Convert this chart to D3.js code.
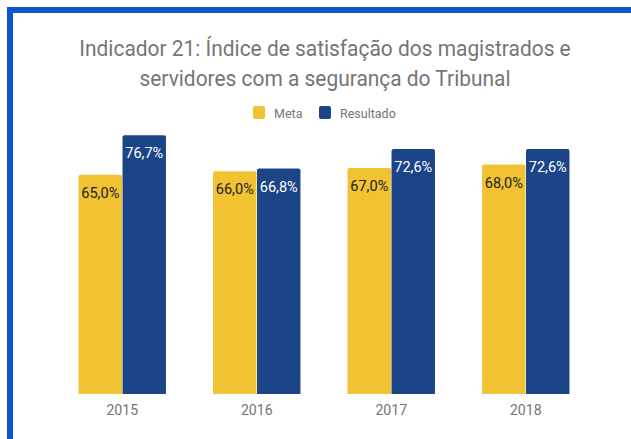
<!DOCTYPE html>
<html>
<head>
<meta charset="utf-8">
<script src="https://cdn.jsdelivr.net/npm/d3@7"></script>
<style>
  html, body { margin: 0; padding: 0; background: #fff; }
  svg { display: block; font-family: Roboto, "Noto Sans", sans-serif; }
</style>
</head>
<body>
<svg id="svg" width="631" height="439"></svg>
<script>
/* global d3 */

const years = ["2015", "2016", "2017", "2018"];
const series = ["Meta", "Resultado"];
const meta = [65.0, 66.0, 67.0, 68.0];
const resultado = [76.7, 66.8, 72.6, 72.6];
const titleLines = [
  "Indicador 21: Índice de satisfação dos magistrados e",
  "servidores com a segurança do Tribunal"
];

const colors = { Meta: "#f1c232", Resultado: "#1c4587" };
const labelColors = { Meta: "#1a1a1a", Resultado: "#ffffff" };
// the source text is a bit narrower than plain Roboto
const squeeze = 0.94;

const svg = d3.select("#svg");

// frame (blue border on top and left)
svg.append("path")
  .attr("d", "M10,439V10H631")
  .attr("fill", "none")
  .attr("stroke", "#1155cc")
  .attr("stroke-width", 6);

// title
svg.append("g")
  .selectAll("text")
  .data(titleLines)
  .join("text")
  .attr("transform", (d, i) => `translate(325,${56 + i * 30}) scale(0.93,1)`)
  .attr("text-anchor", "middle")
  .attr("font-size", 22.5)
  .attr("fill", "#757575")
  .text(d => d);

// legend
const legend = svg.append("g").attr("transform", "translate(253,106)");
const legendItems = legend.selectAll("g")
  .data(series)
  .join("g")
  .attr("transform", (d, i) => `translate(${i * 66},0)`);
legendItems.append("rect")
  .attr("width", 12)
  .attr("height", 13)
  .attr("rx", 2)
  .attr("fill", d => colors[d]);
legendItems.append("text")
  .attr("x", 21)
  .attr("y", 11.5)
  .attr("font-size", 12.5)
  .attr("fill", "#757575")
  .text(d => d);

// scales
const x = d3.scaleBand()
  .domain(years)
  .range([55, 593])
  .paddingInner(0.35)
  .paddingOuter(0.175);

const xSub = d3.scaleBand()
  .domain(series)
  .range([0, x.bandwidth()])
  .paddingInner(0.012);

const y = d3.scaleLinear()
  .domain([0, 80])
  .range([394, 124]);

const rows = years.map((yr, i) => ({
  year: yr,
  values: [
    { key: "Meta", value: meta[i] },
    { key: "Resultado", value: resultado[i] }
  ]
}));

const groups = svg.append("g")
  .selectAll("g")
  .data(rows)
  .join("g")
  .attr("transform", d => `translate(${x(d.year)},0)`);

// bars with slightly rounded tops
const barPath = (x0, w, top, bottom, r) =>
  `M${x0},${bottom}V${top + r}Q${x0},${top} ${x0 + r},${top}` +
  `H${x0 + w - r}Q${x0 + w},${top} ${x0 + w},${top + r}V${bottom}Z`;

groups.selectAll("path")
  .data(d => d.values)
  .join("path")
  .attr("d", d => barPath(xSub(d.key), xSub.bandwidth(), y(d.value), y(0), 2))
  .attr("fill", d => colors[d.key]);

groups.selectAll("text.value")
  .data(d => d.values)
  .join("text")
  .attr("class", "value")
  .attr("transform", d =>
    `translate(${xSub(d.key) + xSub.bandwidth() / 2},${y(d.value) + 23}) scale(${squeeze},1)`)
  .attr("text-anchor", "middle")
  .attr("font-size", 15.5)
  .attr("fill", d => labelColors[d.key])
  .text(d => d3.format(".1f")(d.value).replace(".", ",") + "%");

// x axis labels
const xAxis = svg.append("g")
  .attr("transform", `translate(0,${y(0)})`)
  .call(d3.axisBottom(x).tickSize(0).tickPadding(10));
xAxis.select(".domain").remove();
xAxis.selectAll("text")
  .attr("font-size", 15)
  .attr("font-family", "Roboto, sans-serif")
  .attr("transform", `scale(${squeeze},1)`)
  .attr("fill", "#757575");
</script>
</body>
</html>
